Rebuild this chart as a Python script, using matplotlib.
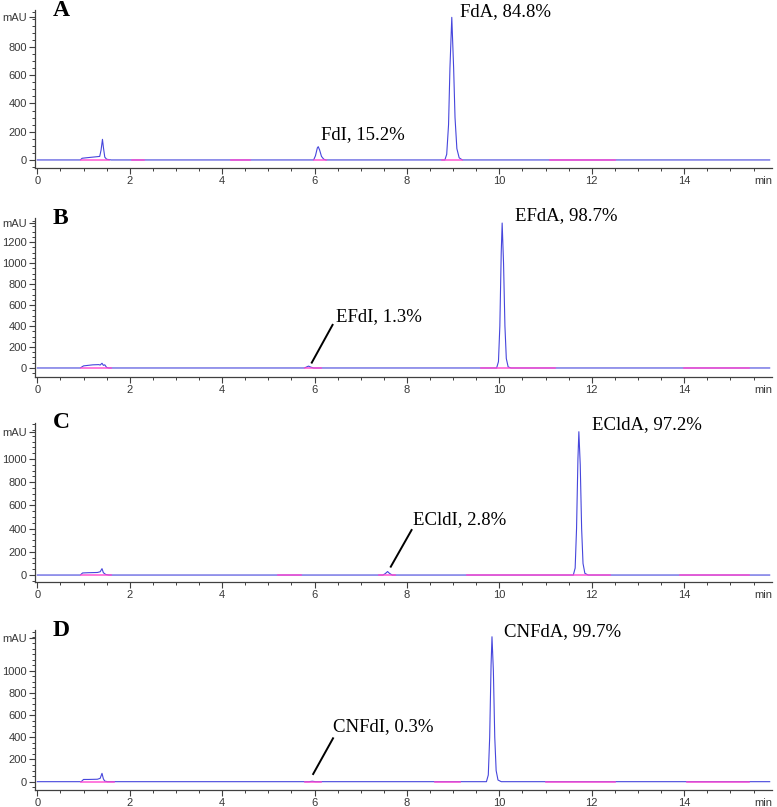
import matplotlib.pyplot as plt
from matplotlib.ticker import MultipleLocator, FixedLocator

# chromatogram traces: retention time [min] and signal [mAU]
time_A = [0, 0.93, 0.97, 1.05, 1.20, 1.35, 1.38, 1.41, 1.43, 1.46, 1.50, 1.60,
          5.98, 6.02, 6.06, 6.08, 6.11, 6.15, 6.20, 6.25,
          8.82, 8.86, 8.90, 8.93, 8.97, 9.01, 9.04, 9.08, 9.13, 9.20, 15.85]
mau_A = [0, 0, 12, 15, 20, 25, 70, 146, 90, 20, 5, 0,
         0, 30, 85, 94, 70, 25, 5, 0,
         0, 40, 250, 650, 1010, 650, 300, 80, 15, 0, 0]

time_B = [0, 0.93, 1.00, 1.20, 1.33, 1.36, 1.40, 1.43, 1.46, 1.50, 1.55,
          5.78, 5.83, 5.87, 5.92, 5.98,
          9.94, 9.98, 10.01, 10.04, 10.06, 10.09, 10.12, 10.15, 10.19, 10.25, 15.85]
mau_B = [0, 0, 20, 30, 32, 28, 45, 25, 30, 5, 0,
         0, 10, 18, 8, 0,
         0, 60, 400, 1100, 1382, 1000, 400, 90, 10, 0, 0]

time_C = [0, 0.93, 0.98, 1.10, 1.30, 1.36, 1.40, 1.43, 1.48, 1.55,
          7.48, 7.53, 7.58, 7.62, 7.68,
          11.60, 11.64, 11.67, 11.70, 11.72, 11.75, 11.78, 11.81, 11.85, 11.92, 15.85]
mau_C = [0, 0, 18, 20, 22, 28, 55, 20, 5, 0,
         0, 12, 30, 15, 0,
         0, 60, 400, 1000, 1235, 950, 400, 100, 15, 0, 0]

time_D = [0, 0.95, 1.00, 1.10, 1.30, 1.36, 1.40, 1.43, 1.46, 1.52,
          5.88, 5.95, 6.02,
          9.72, 9.76, 9.79, 9.82, 9.84, 9.87, 9.90, 9.93, 9.97, 10.04, 15.85]
mau_D = [0, 0, 20, 20, 22, 30, 75, 25, 5, 0,
         0, 4, 0,
         0, 60, 400, 1050, 1306, 1000, 400, 100, 15, 0, 0]

# integration baselines (magenta pieces)
base_A = [(0.95, 1.55), (2.05, 2.3), (4.2, 4.6), (5.98, 6.25), (8.75, 9.2), (11.1, 12.5)]
base_B = [(0.95, 1.6), (5.8, 6.15), (9.6, 11.2), (14.0, 15.4)]
base_C = [(0.95, 1.6), (5.2, 5.7), (7.4, 7.75), (9.3, 12.4), (13.9, 15.4)]
base_D = [(0.95, 1.65), (5.8, 6.15), (8.6, 9.15), (11.0, 12.5), (14.05, 15.4)]

letters = ["A", "B", "C", "D"]
y_labels = [[0, 200, 400, 600, 800],
            [0, 200, 400, 600, 800, 1000, 1200],
            [0, 200, 400, 600, 800, 1000],
            [0, 200, 400, 600, 800, 1000]]
mau_tick = [1012, 1385, 1233, 1297]
ylims = [(-57, 1062), (-86, 1430), (-60, 1310), (-75, 1367)]

# peak labels: (text, x, y) and optional leader line
main_lbl = [("FdA, 84.8%", 9.14, 1048), ("EFdA, 98.7%", 10.33, 1452),
            ("ECldA, 97.2%", 12.01, 1293), ("CNFdA, 99.7%", 10.11, 1351)]
minor_lbl = [("FdI, 15.2%", 6.15, 177), ("EFdI, 1.3%", 6.47, 490),
             ("ECldI, 2.8%", 8.13, 474), ("CNFdI, 0.3%", 6.40, 495)]
leaders = [None, ((5.94, 6.39), (51, 411)), ((7.65, 8.10), (72, 388)),
           ((5.97, 6.40), (69, 391))]

times = [time_A, time_B, time_C, time_D]
maus = [mau_A, mau_B, mau_C, mau_D]
bases = [base_A, base_B, base_C, base_D]

# axes boxes in figure pixels (top, bottom)
boxes = [(10, 168), (218, 377), (423, 582), (630, 790)]

W, H = 777, 807
fig = plt.figure(figsize=(W / 100, H / 100), dpi=100)

blue = "#4646dc"
pink = "#ff48d0"
gray = "#404040"
serif = "Liberation Serif"

for i in range(4):
    top, bot = boxes[i]
    ax = fig.add_axes([35 / W, 1 - bot / H, (772 - 35) / W, (bot - top) / H])
    ax.plot(times[i], maus[i], color=blue, lw=0.8, zorder=3)
    for a, b in bases[i]:
        ax.plot([a, b], [0, 0], color=pink, lw=1.2, alpha=0.85, zorder=4)

    ax.set_xlim(-0.05, 15.9)
    ax.set_ylim(*ylims[i])
    ax.spines["top"].set_visible(False)
    ax.spines["right"].set_visible(False)
    for s in ["left", "bottom"]:
        ax.spines[s].set_color(gray)
        ax.spines[s].set_linewidth(0.9)

    ax.xaxis.set_major_locator(FixedLocator([0, 2, 4, 6, 8, 10, 12, 14]))
    ax.xaxis.set_minor_locator(MultipleLocator(0.5))
    ticks = y_labels[i] + [mau_tick[i]]
    ax.yaxis.set_major_locator(FixedLocator(ticks))
    ax.set_yticklabels([str(v) for v in y_labels[i]] + ["mAU"])
    ax.yaxis.set_minor_locator(MultipleLocator(50))
    ax.tick_params(which="major", length=4, width=0.8, color=gray,
                   labelsize=8, labelcolor="#383838", pad=2)
    ax.tick_params(which="minor", length=2.5, width=0.7, color=gray)
    for lab in ax.get_xticklabels() + ax.get_yticklabels():
        lab.set_fontfamily("Liberation Sans")

    ax.annotate("min", xy=(1, 0), xycoords="axes fraction", xytext=(0, -6),
                textcoords="offset points", ha="right", va="top",
                fontsize=8, color="#383838", family="Liberation Sans")

    ax.text(0.024, 1.0, letters[i], transform=ax.transAxes, ha="left", va="center",
            fontsize=17, fontweight="bold", family=serif)

    t, x, y = main_lbl[i]
    ax.text(x, y, t, ha="left", va="center", fontsize=13.5, family=serif, clip_on=False)
    t, x, y = minor_lbl[i]
    ax.text(x, y, t, ha="left", va="center", fontsize=13.5, family=serif, clip_on=False)
    if leaders[i] is not None:
        lx, ly = leaders[i]
        ax.plot(lx, ly, color="black", lw=1.4, zorder=5)

fig.savefig("out.png", dpi=100)
